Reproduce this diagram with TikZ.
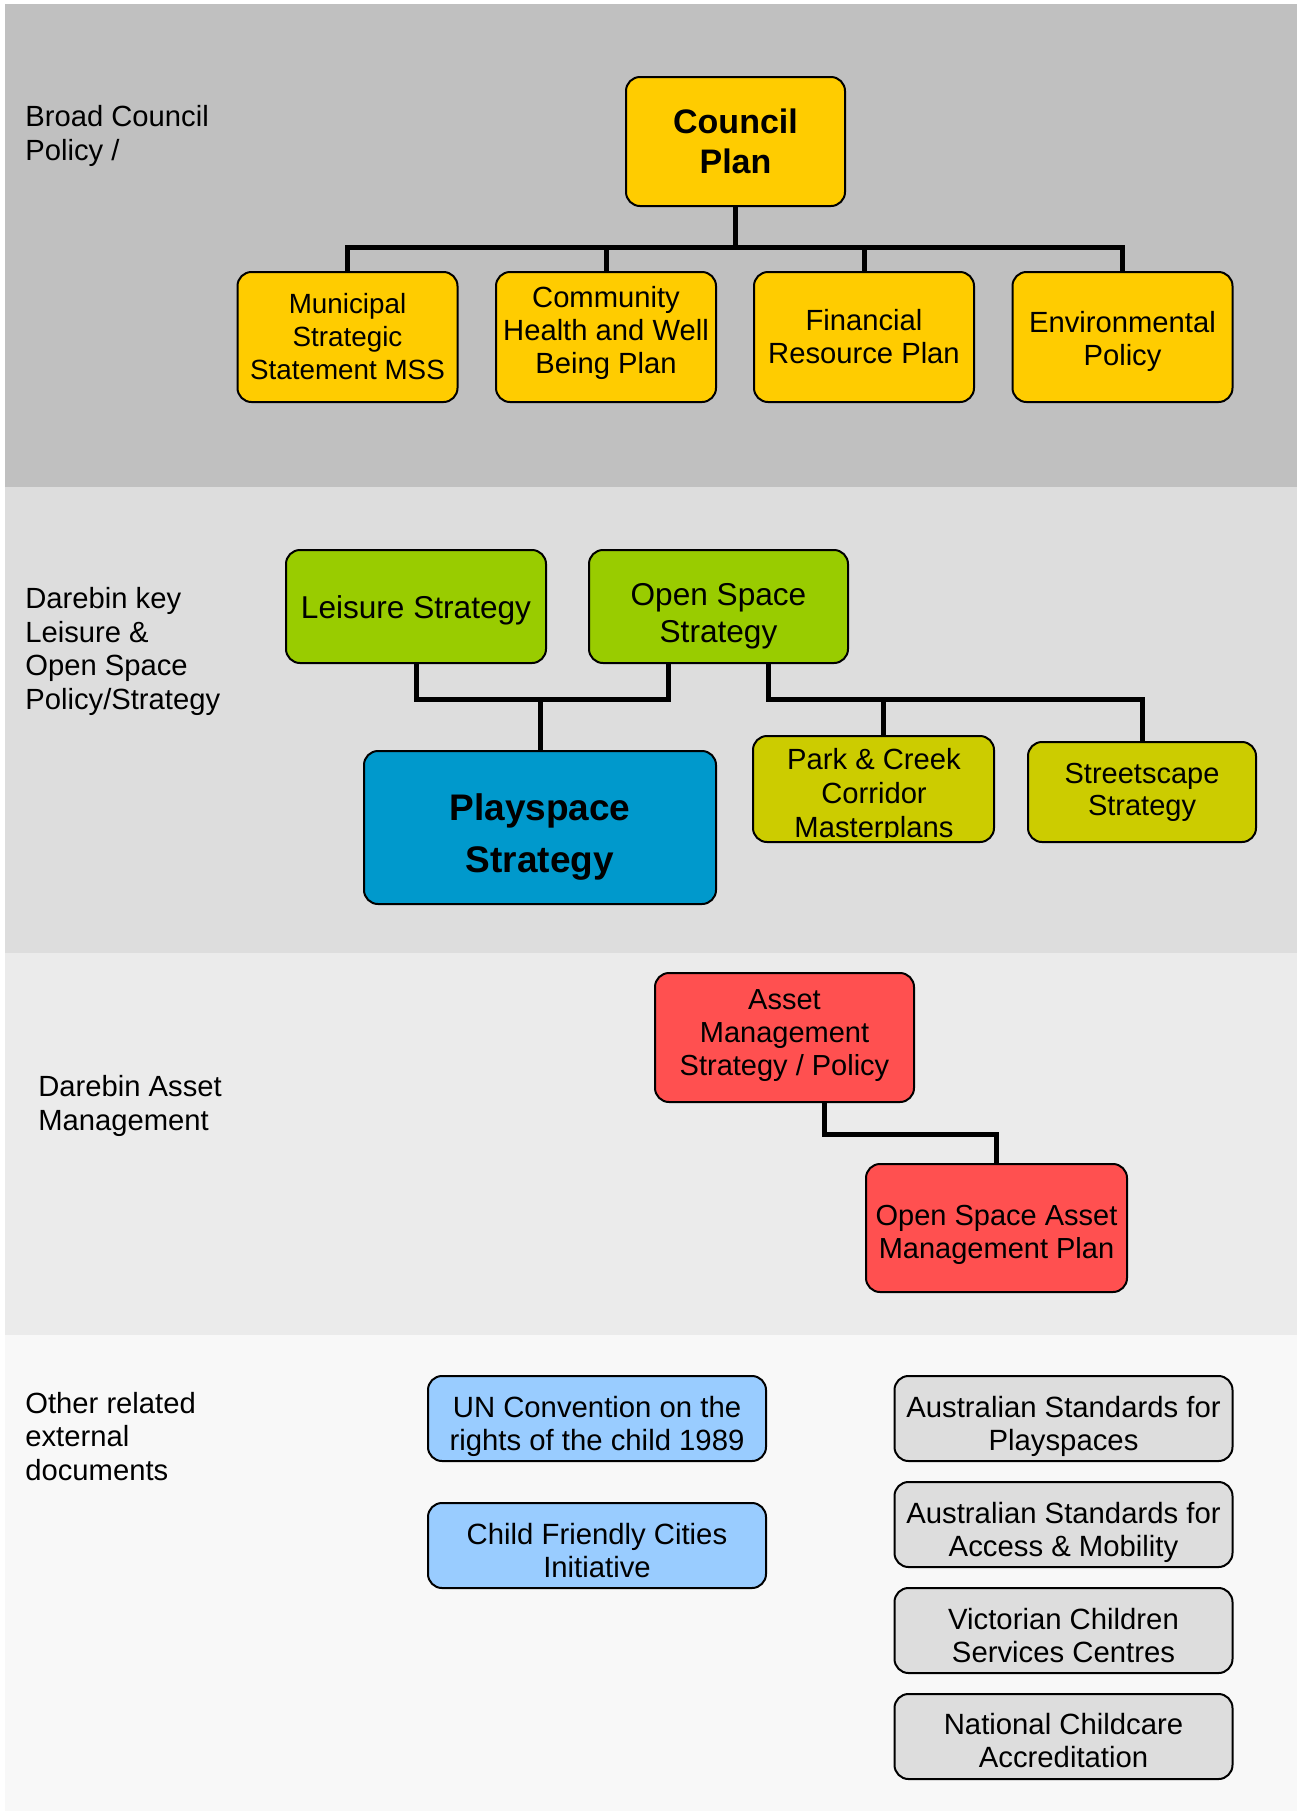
\documentclass[tikz,border=0pt]{standalone}
\usepackage{fontspec}
\setmainfont{Liberation Sans}
\usetikzlibrary{calc}
\definecolor{bandA}{HTML}{C0C0C0}
\definecolor{bandB}{HTML}{DDDDDD}
\definecolor{bandC}{HTML}{EBEBEB}
\definecolor{bandD}{HTML}{F8F8F8}
\definecolor{cyellow}{HTML}{FFCC00}
\definecolor{cgreen}{HTML}{99CC00}
\definecolor{cblue}{HTML}{0099CC}
\definecolor{colive}{HTML}{CCCC00}
\definecolor{cred}{HTML}{FF5050}
\definecolor{clblue}{HTML}{99CCFF}
\definecolor{cgray}{HTML}{DDDDDD}
% invisible struts that move a node's text down / up (argument = shift in picture pixels, given in pt)
\newcommand\txtdown[1]{\rule{0pt}{\dimexpr 0.73em+#1\relax}}
\newcommand\txtup[1]{\rule[-\dimexpr 0.21em+#1\relax]{0pt}{\dimexpr 0.21em+#1\relax}}
\begin{document}
\begin{tikzpicture}[x=0.5pt,y=-0.5pt,
  bx/.style={draw=black, line width=1pt, rounded corners=7pt, inner sep=0pt, align=center},
  conn/.style={line width=2.5pt, draw=black},
  lbl/.style={anchor=north west, inner sep=0pt, align=left, font=\fontsize{14.6}{16.75}\selectfont},
  std/.style={font=\fontsize{14.5}{16.5}\selectfont},
  rowone/.style={bx, fill=cyellow, minimum width=110pt, minimum height=65pt, font=\fontsize{14.6}{16.5}\selectfont},
  ext/.style={bx, font=\fontsize{14.65}{16.5}\selectfont, minimum width=169pt, minimum height=42.5pt},
]
\useasboundingbox (0,0) rectangle (1297,1811);
% bands
\fill[bandA] (5,4) rectangle (1297,487);
\fill[bandB] (5,487) rectangle (1297,953);
\fill[bandC] (5,953) rectangle (1297,1335);
\fill[bandD] (5,1335) rectangle (1297,1811);

% band labels
\node[lbl] (l1) at (25,105) {Broad Council\\Policy /};
\node[lbl] (l2) at (25,587) {Darebin key\\Leisure \&\\Open Space\\Policy/Strategy};
\node[lbl] (l3) at (38,1075) {Darebin Asset\\Management};
\node[lbl] (l4) at (25,1391.5) {Other related\\external\\documents};

% band 1
\node[bx, fill=cyellow, minimum width=109.5pt, minimum height=64.5pt,
      font=\fontsize{17}{20}\selectfont\bfseries] (council) at (735.5,141.5) {Council\\Plan};
\node[rowone, font=\fontsize{13.9}{16.5}\selectfont] (mss) at (347.5,337) {Municipal\\Strategic\\Statement MSS};
\node[rowone] (chw) at (606,337) {Community\\Health and Well\\Being Plan\txtup{4pt}};
\node[rowone] (frp) at (864,337) {Financial\\Resource Plan};
\node[rowone] (env) at (1122.5,337) {\txtdown{4pt}Environmental\\Policy};
\coordinate (bus1y) at (0,247.5);
\draw[conn] (council.south) -- (council.south |- bus1y);
\draw[conn] (mss.north) |- (env.north |- bus1y) -- (env.north);
\draw[conn] (chw.north) -- (chw.north |- bus1y);
\draw[conn] (frp.north) -- (frp.north |- bus1y);

% band 2
\node[bx, fill=cgreen, minimum width=130pt, minimum height=56.5pt,
      font=\fontsize{15.8}{18.5}\selectfont] (leisure) at (416,606.5) {\txtdown{3.5pt}Leisure Strategy};
\node[bx, fill=cgreen, minimum width=129.5pt, minimum height=56.5pt,
      font=\fontsize{15.8}{18.5}\selectfont] (openspace) at (718.5,606.5) {\txtdown{9pt}Open Space\\Strategy};
\node[bx, fill=cblue, minimum width=176pt, minimum height=76.5pt,
      font=\fontsize{18.5}{26}\selectfont\bfseries] (playspace) at (540,827.5) {\txtdown{9pt}Playspace\\Strategy};
\node[bx, fill=colive, minimum width=120.5pt, minimum height=53pt] (park) at (873.5,789) {};
\begin{scope}
  \clip ($(park.south west)+(1,-6)$) rectangle ($(park.north east)+(-1,2)$);
  \node[inner sep=0pt, align=center, font=\fontsize{14.6}{17}\selectfont] (parktext) at (874,795.5)
    {Park \& Creek\\Corridor\\Masterplans};
\end{scope}
\node[bx, fill=colive, minimum width=114pt, minimum height=50pt,
      font=\fontsize{14.5}{16}\selectfont] (street) at (1142,792) {Streetscape\\Strategy};
\coordinate (bus2y) at (0,699);
\coordinate (osL) at (668,663);
\coordinate (osR) at (768,663);
\coordinate (parkTop) at (883,737);
\draw[conn] (leisure.south) |- (osL |- bus2y) -- (osL);
\draw[conn] (playspace.north) -- (playspace.north |- bus2y);
\draw[conn] (osR) |- (street.north |- bus2y) -- (street.north);
\draw[conn] (parkTop) -- (parkTop |- bus2y);

% band 3
\node[bx, std, fill=cred, minimum width=129.5pt, minimum height=64.5pt] (asset) at (784.5,1037.5)
  {Asset\\Management\\Strategy / Policy\txtup{2pt}};
\node[bx, std, fill=cred, minimum width=130.5pt, minimum height=64pt] (osamp) at (996.5,1228)
  {\txtdown{6pt}Open Space Asset\\Management Plan};
\coordinate (assetB) at (824.5,1101.5);
\draw[conn] (assetB) |- (osamp.north |- 0,1134.5) -- (osamp.north);

% band 4
\node[ext, fill=clblue] (un) at (597,1418.5) {\txtdown{8pt}UN Convention on the\\rights of the child 1989};
\node[ext, fill=clblue] (cfc) at (597,1545.5) {\txtdown{5pt}Child Friendly Cities\\Initiative};
\node[ext, fill=cgray] (as1) at (1063.5,1418.5) {\txtdown{8pt}Australian Standards for\\Playspaces};
\node[ext, fill=cgray] (as2) at (1063.5,1524.5) {\txtdown{8pt}Australian Standards for\\Access \& Mobility};
\node[ext, fill=cgray] (vic) at (1063.5,1630.5) {\txtdown{5pt}Victorian Children\\Services Centres};
\node[ext, fill=cgray] (nca) at (1063.5,1736.5) {\txtdown{4pt}National Childcare\\Accreditation};
\end{tikzpicture}
\end{document}
